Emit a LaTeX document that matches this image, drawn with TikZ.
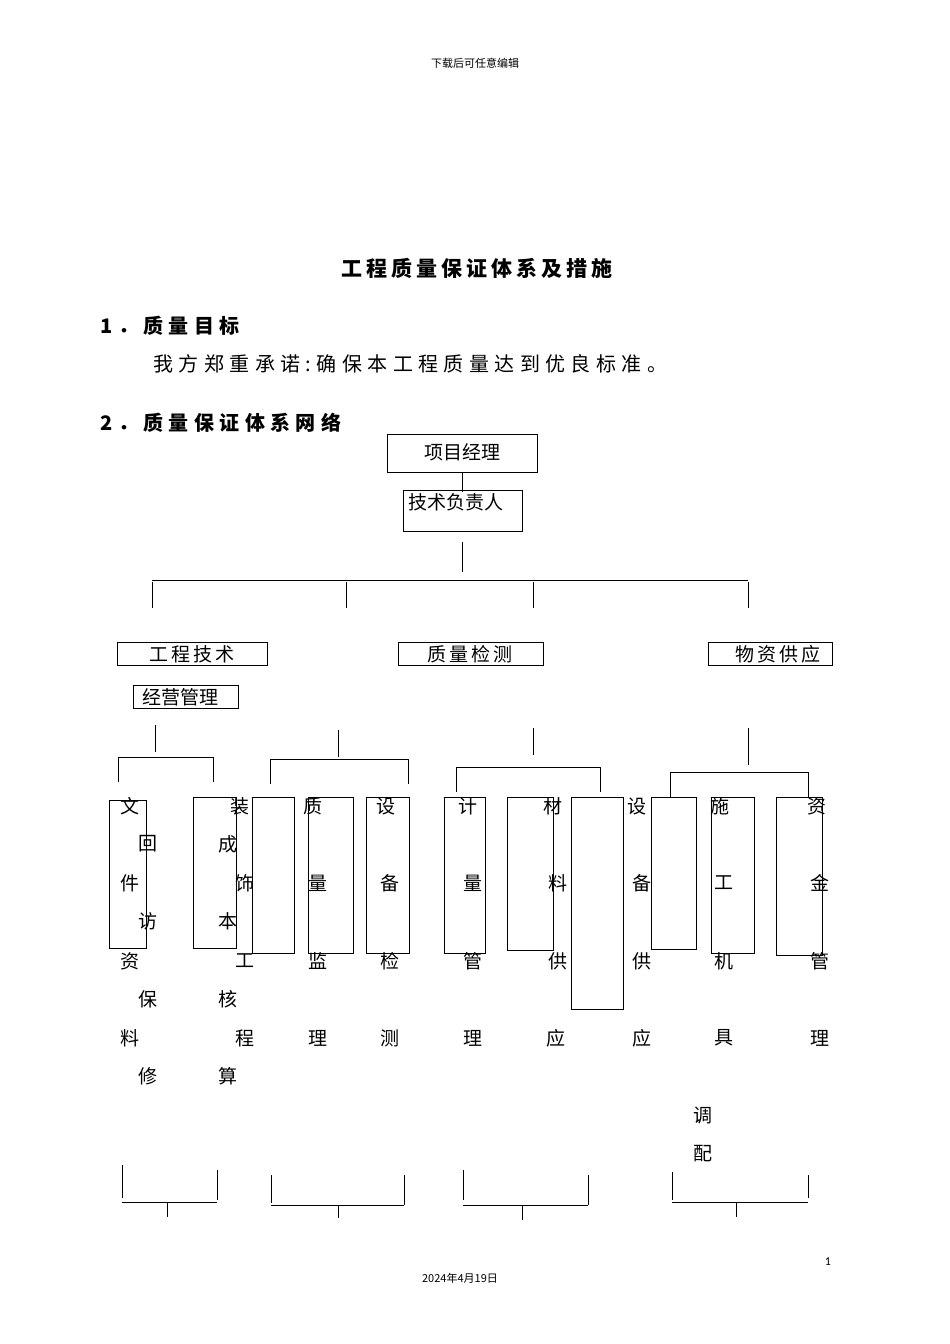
\documentclass[tikz,border=0pt]{standalone}
\usepackage{fontspec}
\setmainfont{Carlito}
\newfontfamily\cjk{Noto Sans CJK SC}
\newfontfamily\cjksp[LetterSpace=27]{Noto Sans CJK SC}
\newfontfamily\cjkti[LetterSpace=19]{Noto Sans CJK SC}
\begin{document}
\begin{tikzpicture}[x=1pt,y=-1pt,line width=1pt,
  t/.style={inner sep=0pt,font=\cjk\fontsize{19}{19}\selectfont},
  bx/.style={draw,inner sep=0pt}]
\useasboundingbox (0,0) rectangle (950,1344);
\node[t,font=\cjk\fontsize{11}{11}\selectfont] (hd) at (475,63) {下载后可任意编辑};
\node[t,font=\cjkti\bfseries\fontsize{21}{21}\selectfont] (title) at (477,268) {工程质量保证体系及措施};
\node[t,anchor=west,font=\cjksp\bfseries\fontsize{20}{20}\selectfont] (s1) at (100,326) {1．质量目标};
\node[t,anchor=west,font=\cjksp\fontsize{20}{20}\selectfont] (goal) at (153,364) {我方郑重承诺:确保本工程质量达到优良标准。};
\node[t,anchor=west,font=\cjksp\bfseries\fontsize{20}{20}\selectfont] (s2) at (100,423) {2．质量保证体系网络};
% top boxes
\draw (387,434) rectangle (537,472);
\node[t] (pm) at (462,452) {项目经理};
\draw (403,490) rectangle (522,531);
\node[t,anchor=west] (tech) at (408,502) {技术负责人};
\draw (462,472) -- (462,492);
\draw (462,542) -- (462,572);
\draw (152,580) -- (748,580);
\foreach \x in {152,346,533,748} \draw (\x,582) -- (\x,608);
% mid boxes
\draw (117,642) rectangle (267,665); \node[t] (gcjs) at (192,654) {工\,程\,技\,术};
\draw (398,642) rectangle (543,665); \node[t] (zljc) at (470,654) {质\,量\,检\,测};
\draw (708,642) rectangle (832,665); \node[t] (wzgy) at (778,654) {物\,资\,供\,应};
\draw (133,685) rectangle (238,708); \node[t] (jygl) at (180,697) {经营管理};
\foreach \x/\a/\b in {155/725/752,338/730/757,533/728/755,748/728/765} \draw (\x,\a) -- (\x,\b);
% brackets
\draw (118,782) -- (118,757) -- (213,757) -- (213,782);
\draw (270,784) -- (270,759) -- (408,759) -- (408,784);
\draw (456,792) -- (456,767) -- (600,767) -- (600,792);
\draw (670,797) -- (670,772) -- (808,772) -- (808,797);
% tall boxes
\foreach \a/\b/\c/\d in {109/800/146/948,193/797/236/948,252/797/294/953,308/797/353/953,366/797/409/953,444/797/485/953,507/797/553/950,571/797/623/1009,651/797/696/949,711/797/754/953,776/797/822/955}
  \draw (\a,\b) rectangle (\c,\d);
% column texts
\foreach \x/\y/\c in {130/806/文,148/844/回,130/883/件,148/921/访,130/961/资,148/999/保,130/1038/料,148/1076/修,
 240/806/装,228/844/成,245/883/饰,228/921/本,245/961/工,228/999/核,245/1038/程,228/1076/算,
 313/806/质,318/883/量,318/961/监,318/1038/理,
 386/806/设,390/883/备,390/961/检,390/1038/测,
 468/806/计,473/883/量,473/961/管,473/1038/理,
 553/806/材,558/883/料,558/961/供,556/1038/应,
 637/806/设,642/883/备,642/961/供,642/1038/应,
 720/806/施,724/883/工,724/961/机,724/1038/具,703/1115/调,703/1154/配,
 817/806/资,820/883/金,820/961/管,820/1038/理}
  \node[t] at (\x,\y) {\c};
% bottom brackets
\draw (122,1165) -- (122,1198); \draw (217,1170) -- (217,1200);
\draw (122,1202) -- (217,1202); \draw (167,1202) -- (167,1217);
\draw (271,1175) -- (271,1203); \draw (404,1175) -- (404,1205);
\draw (271,1205) -- (404,1205); \draw (338,1205) -- (338,1218);
\draw (463,1170) -- (463,1200); \draw (588,1175) -- (588,1205);
\draw (463,1205) -- (588,1205); \draw (522,1205) -- (522,1220);
\draw (672,1172) -- (672,1200); \draw (808,1175) -- (808,1198);
\draw (672,1202) -- (808,1202); \draw (736,1202) -- (736,1217);
\node[t,font=\fontsize{12}{12}\selectfont] (pg) at (828,1262) {1};
\node[t,font=\cjk\fontsize{11}{11}\selectfont] (date) at (460,1278) {2024年4月19日};
\end{tikzpicture}
\end{document}
